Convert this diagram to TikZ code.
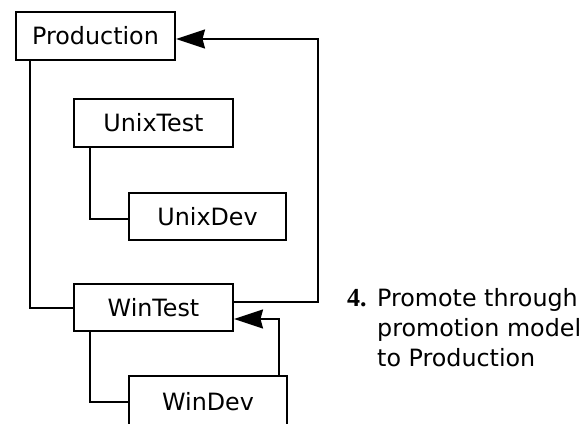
\documentclass[tikz,border=0pt]{standalone}
\usepackage{fontspec}
\setmainfont{DejaVu Sans}
\newfontfamily\numfont{Liberation Serif}
\usetikzlibrary{arrows.meta}
\begin{document}
\begin{tikzpicture}[x=1pt,y=-1pt,
  box/.style={draw=black,line width=2pt,rectangle,minimum width=159pt,minimum height=48pt,inner sep=0pt,
    font=\fontsize{23.8}{28}\selectfont},
  conn/.style={line width=2pt},
  arr/.style={line width=2pt,-{Stealth[length=29pt,width=19pt,inset=2.5pt]}},
  txt/.style={inner sep=0pt,font=\fontsize{23.8}{30}\selectfont}]
\clip (0,0) rectangle (585,423);
\useasboundingbox (0,0) rectangle (585,423);
\node[box] (prod) at (95.5,35.5) {Production\hspace{6pt}};
\node[box] (unixtest) at (153.5,123) {UnixTest\hspace{4pt}};
\node[box,minimum width=157pt,minimum height=47pt] (unixdev) at (207.5,216.5) {UnixDev\hspace{8pt}};
\node[box,minimum height=47pt] (wintest) at (153.5,307.5) {WinTest\hspace{8pt}};
\node[box,minimum width=158pt,minimum height=52pt] (windev) at (208,402) {WinDev\hspace{6pt}};
\draw[conn] ([xshift=15pt]prod.south west) |- (wintest.west);
\draw[conn] ([xshift=17pt]unixtest.south west) |- ([yshift=-2.5pt]unixdev.west);
\draw[conn] ([xshift=17pt]wintest.south west) |- (windev.west);
\draw[arr] ([yshift=5.5pt]wintest.east) -- ++(84,0) |- ([yshift=-3.5pt]prod.east);
\draw[arr] ([xshift=-9pt]windev.north east) |- ([yshift=-11.5pt]wintest.east);
\node[txt,anchor=base west] (num) at (347,306) {\fontsize{26}{30}\numfont\bfseries 4.};
\node[txt,anchor=base west,align=left] (step) at (377,366) {Promote through\\promotion model\\to Production};
\end{tikzpicture}
\end{document}
